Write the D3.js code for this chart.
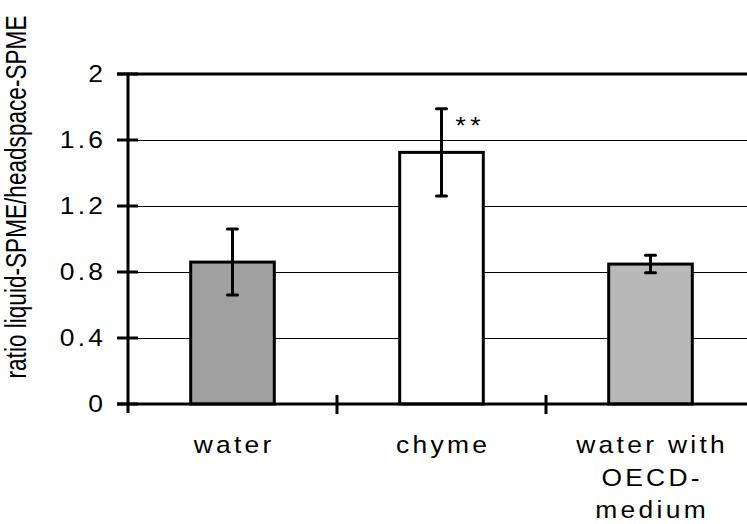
<!DOCTYPE html>
<html>
<head>
<meta charset="utf-8">
<script src="https://cdn.jsdelivr.net/npm/d3@7"></script>
<style>
  html, body { margin: 0; padding: 0; background: #fff; }
  svg { display: block; }
  text { font-family: Arial, "Liberation Sans", sans-serif; fill: #000; }
</style>
</head>
<body>
<svg id="chart" width="747" height="524"></svg>
<script>
// ---- data ----
const categories = ["water", "chyme", "water with OECD-medium"];
const labelLines = [["water"], ["chyme"], ["water with", "OECD-", "medium"]];
const means = [0.86, 1.525, 0.848];
const errors = [0.20, 0.265, 0.053];
const fills = ["#a0a0a0", "#ffffff", "#b8b8b8"];
const significance = ["", "**", ""];
const yTicks = [0, 0.4, 0.8, 1.2, 1.6, 2];
const yTickLabels = ["0", "0.4", "0.8", "1.2", "1.6", "2"];
const yLabel = "ratio liquid-SPME/headspace-SPME";

// ---- layout ----
const W = 747, H = 524;
const mLeft = 128, mRight = 755, mTop = 74, mBottom = 404;
const FS = 24;
const SX = 1.1;   // horizontal stretch of the original figure
const LS = 3;     // letter spacing (in unscaled units)

const svg = d3.select("#chart");

const x = d3.scaleBand().domain(categories).range([mLeft, mRight]).paddingInner(0).paddingOuter(0);
const y = d3.scaleLinear().domain([0, 2]).range([mBottom, mTop]);
const barW = x.bandwidth() * 0.4;

// gridlines
svg.append("g").selectAll("line")
  .data(yTicks.filter(d => d > 0 && d < 2))
  .join("line")
  .attr("x1", mLeft).attr("x2", W)
  .attr("y1", d => y(d) + 0.5).attr("y2", d => y(d) + 0.5)
  .attr("stroke", "#000").attr("stroke-width", 1)
  .attr("shape-rendering", "crispEdges");

// bars
const g = svg.append("g");
g.selectAll("rect.bar")
  .data(categories)
  .join("rect")
  .attr("class", "bar")
  .attr("x", (d) => x(d) + (x.bandwidth() - barW) / 2)
  .attr("y", (d, i) => y(means[i]))
  .attr("width", barW)
  .attr("height", (d, i) => y(0) - y(means[i]))
  .attr("fill", (d, i) => fills[i])
  .attr("stroke", "#000")
  .attr("stroke-width", 3);

// error bars
const capW = 10;
categories.forEach((c, i) => {
  const cx = x(c) + x.bandwidth() / 2;
  const y1 = y(means[i] + errors[i]), y0 = y(means[i] - errors[i]);
  g.append("line").attr("x1", cx).attr("x2", cx).attr("y1", y1).attr("y2", y0)
    .attr("stroke", "#000").attr("stroke-width", 3);
  [y1, y0].forEach(yy => {
    g.append("line").attr("x1", cx - capW / 2).attr("x2", cx + capW / 2)
      .attr("y1", yy).attr("y2", yy)
      .attr("stroke", "#000").attr("stroke-width", 3).attr("stroke-linecap", "round");
  });
  if (significance[i]) {
    g.append("text")
      .attr("transform", `translate(${cx + 14},${y1 + 25}) scale(${SX},1)`)
      .attr("font-size", FS)
      .attr("letter-spacing", "4px")
      .text(significance[i]);
  }
});

// top frame line
svg.append("line").attr("x1", mLeft - 11).attr("x2", W).attr("y1", mTop).attr("y2", mTop)
  .attr("stroke", "#000").attr("stroke-width", 3);

// x axis line
svg.append("line").attr("x1", mLeft - 11).attr("x2", W).attr("y1", mBottom).attr("y2", mBottom)
  .attr("stroke", "#000").attr("stroke-width", 3);

// y axis line
svg.append("line").attr("x1", mLeft).attr("x2", mLeft).attr("y1", mTop).attr("y2", mBottom + 9)
  .attr("stroke", "#000").attr("stroke-width", 3);

// y ticks
svg.append("g").selectAll("line")
  .data(yTicks)
  .join("line")
  .attr("x1", mLeft - 11).attr("x2", mLeft + 10)
  .attr("y1", d => y(d)).attr("y2", d => y(d))
  .attr("stroke", "#000").attr("stroke-width", 3);

// y tick labels
svg.append("g").selectAll("text")
  .data(yTicks)
  .join("text")
  .attr("transform", d => `translate(${103 + LS * SX},${y(d) + 8}) scale(${SX},1)`)
  .attr("text-anchor", "end")
  .attr("font-size", FS)
  .attr("letter-spacing", LS + "px")
  .text((d, i) => yTickLabels[i]);

// x category separator ticks
svg.append("g").selectAll("line")
  .data(categories.slice(1))
  .join("line")
  .attr("x1", d => x(d)).attr("x2", d => x(d))
  .attr("y1", mBottom - 9).attr("y2", mBottom + 10)
  .attr("stroke", "#000").attr("stroke-width", 3);

// x category labels
categories.forEach((c, i) => {
  const cx = x(c) + x.bandwidth() / 2;
  labelLines[i].forEach((ln, j) => {
    svg.append("text")
      .attr("transform", `translate(${cx + LS * SX / 2},${453 + j * 32.5}) scale(${SX},1)`)
      .attr("text-anchor", "middle")
      .attr("font-size", FS)
      .attr("letter-spacing", LS + "px")
      .text(ln);
  });
});

// y axis label
svg.append("text")
  .attr("transform", `translate(26,${(mTop + mBottom) / 2 - 42}) scale(1.29,1) rotate(-90)`)
  .attr("text-anchor", "middle")
  .attr("font-size", 22.6)
  .text(yLabel);
</script>
</body>
</html>
